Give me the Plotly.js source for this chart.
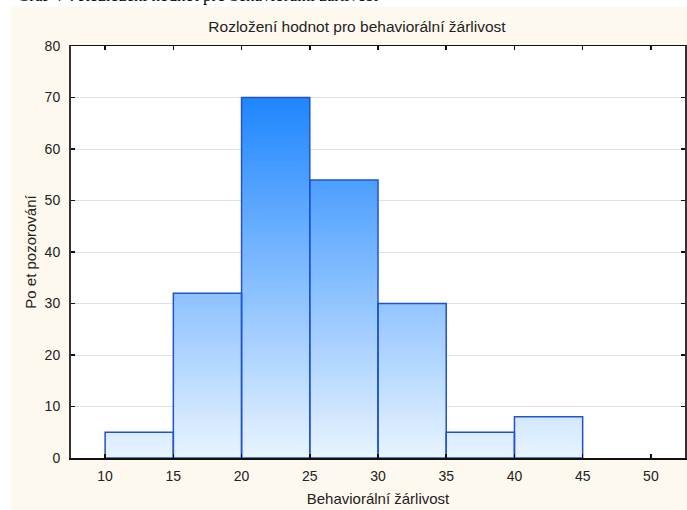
<!DOCTYPE html>
<html>
<head>
<meta charset="utf-8">
<script src="https://cdn.plot.ly/plotly-3.0.1.min.js"></script>
<style>
  html, body { margin: 0; padding: 0; background: #ffffff; }
  #wrap { position: relative; width: 687px; height: 510px; overflow: hidden; }
  #bg { position: absolute; left: 11px; top: 7px; right: 0; bottom: 0; background: #FEF9EF; }
  #chart { position: absolute; left: 0; top: 0; width: 687px; height: 510px; }
</style>
</head>
<body>
<div id="wrap"><div id="bg"></div><div id="chart"></div></div>
<script>
// Data
const binEdges = [10, 15, 20, 25, 30, 35, 40, 45];
const counts = [5, 32, 70, 54, 30, 5, 8];
const xTicks = [10, 15, 20, 25, 30, 35, 40, 45, 50];
const yTicks = [0, 10, 20, 30, 40, 50, 60, 70, 80];

const centers = counts.map((c, i) => (binEdges[i] + binEdges[i + 1]) / 2);
const widths = counts.map((c, i) => binEdges[i + 1] - binEdges[i]);
const stepX = binEdges.slice();
const stepY = counts.concat([counts[counts.length - 1]]);
const fontFam = 'Arial, "Liberation Sans", sans-serif';
const xRange = [7.5, 52.5];
const yRange = [0, 80];

const fillTrace = {
  type: 'scatter', mode: 'lines',
  x: stepX, y: stepY,
  line: { shape: 'hv', width: 0, color: 'rgba(0,0,0,0)' },
  fill: 'tozeroy',
  fillgradient: {
    type: 'vertical',
    colorscale: [[0, '#E9F4FF'], [1, '#1E86FF']],
    start: 0, stop: 70
  },
  hoverinfo: 'skip', showlegend: false
};

// outlines drawn on an overlaying pair of axes so they sit above the gradient fill
const barTrace = {
  type: 'bar',
  x: centers, y: counts, width: widths,
  xaxis: 'x2', yaxis: 'y2',
  marker: { color: 'rgba(0,0,0,0)', line: { color: '#2152D0', width: 1.5 } },
  showlegend: false
};

const layout = {
  width: 687, height: 510,
  margin: { l: 71, r: 2, t: 46, b: 52 },
  paper_bgcolor: 'rgba(0,0,0,0)',
  plot_bgcolor: '#ffffff',
  font: { family: fontFam, color: '#222222', size: 14 },
  title: {
    text: 'Rozložení hodnot pro behaviorální žárlivost',
    font: { family: fontFam, size: 15.5, color: '#222222' },
    xref: 'container', x: 357 / 687, xanchor: 'center',
    yref: 'container', y: 1 - 27 / 510, yanchor: 'middle'
  },
  xaxis: {
    range: xRange,
    tickmode: 'array', tickvals: xTicks, ticktext: xTicks.map(String),
    ticks: 'inside', ticklen: 4, tickwidth: 1.5, tickcolor: '#111',
    ticklabelstandoff: 5,
    mirror: 'ticks', showline: true, linecolor: '#111', linewidth: 1.5,
    showgrid: false, zeroline: false,
    tickfont: { size: 14, family: fontFam, color: '#222' },
    title: { text: 'Behaviorální žárlivost', font: { size: 15, family: fontFam, color: '#222' }, standoff: 10 }
  },
  yaxis: {
    range: yRange,
    tickmode: 'array', tickvals: yTicks, ticktext: yTicks.map(String),
    ticks: 'inside', ticklen: 4, tickwidth: 1.5, tickcolor: '#111',
    ticklabelstandoff: 6,
    mirror: 'ticks', showline: true, linecolor: '#333', linewidth: 2,
    showgrid: true, gridcolor: '#e2e2e2', gridwidth: 1, zeroline: false,
    tickfont: { size: 14, family: fontFam, color: '#222' },
    title: { text: 'Po et pozorování', font: { size: 15, family: fontFam, color: '#222' }, standoff: 4 }
  },
  xaxis2: { overlaying: 'x', range: xRange, visible: false, showgrid: false, zeroline: false },
  yaxis2: { overlaying: 'y', range: yRange, visible: false, showgrid: false, zeroline: false },
  annotations: [{
    text: 'Graf  7 : Rozložení hodnot pro behaviorální žárlivost',
    xref: 'paper', yref: 'paper',
    x: (15 - 71) / 614, xanchor: 'left',
    y: 1 + (46 - 7) / 412, yanchor: 'bottom',
    showarrow: false,
    font: { family: '"Liberation Serif", "Times New Roman", serif', size: 17, color: '#000' }
  }],
  bargap: 0
};

Plotly.newPlot('chart', [fillTrace, barTrace], layout, { displayModeBar: false, staticPlot: true });
</script>
</body>
</html>
